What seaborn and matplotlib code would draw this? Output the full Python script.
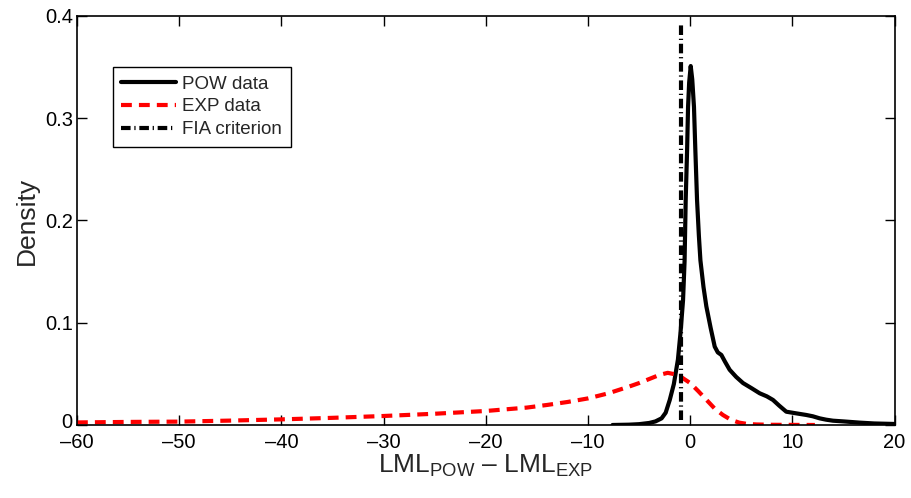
import numpy as np
import pandas as pd
import matplotlib
matplotlib.use("Agg")
import matplotlib.pyplot as plt
import matplotlib.transforms as mtransforms
import seaborn as sns

# ---- data ----
pow_x = [-7.6, -6, -5, -4.0, -3.4, -2.8, -2.4, -2.0, -1.6, -1.2, -0.95, -0.7, -0.55, -0.44, -0.3, -0.21,
         -0.1, 0.05, 0.2, 0.37, 0.5, 0.67, 0.85, 1.0, 1.3, 1.58, 2.0, 2.4, 2.7, 3.05, 3.4, 3.86, 4.5,
         5.17, 6.0, 6.8, 7.5, 8.1, 8.7, 9.4, 10.3, 11.36, 12.0, 12.67, 13.3, 13.97, 15.0, 16.6, 18.0, 20.0]
pow_y = [0.0, 0.0003, 0.0008, 0.002, 0.0035, 0.0065, 0.012, 0.0245, 0.04, 0.064, 0.09, 0.122, 0.16, 0.22,
         0.27, 0.311, 0.335, 0.351, 0.338, 0.311, 0.27, 0.22, 0.185, 0.161, 0.135, 0.116, 0.095, 0.0766,
         0.071, 0.0685, 0.062, 0.054, 0.047, 0.041, 0.036, 0.031, 0.028, 0.0245, 0.019, 0.013, 0.0115,
         0.0098, 0.0085, 0.0065, 0.0052, 0.0042, 0.0035, 0.0023, 0.0015, 0.001]

exp_x = [-60, -55, -50, -45, -40, -35, -30, -25, -20, -16, -14, -12, -10, -8, -6, -5, -4, -3, -2.2,
         -1.2, 0, 0.8, 1.6, 2.4, 3.2, 4, 4.8, 5.6, 6.5, 8, 10, 12.2]
exp_y = [0.0025, 0.003, 0.0033, 0.0043, 0.0055, 0.007, 0.0088, 0.011, 0.0137, 0.017, 0.0196, 0.0225,
         0.026, 0.031, 0.0375, 0.041, 0.045, 0.049, 0.051, 0.049, 0.041, 0.033, 0.0245, 0.016, 0.0098,
         0.005, 0.0023, 0.001, 0.0005, 0.0002, 0.0001, 0.0]

fia_x = -0.9

x_ticks = [-60, -50, -40, -30, -20, -10, 0, 10, 20]
y_ticks = [0, 0.1, 0.2, 0.3, 0.4]
y_tick_labels = ["0", "0.1", "0.2", "0.3", "0.4"]
labels = ["POW data", "EXP data", "FIA criterion"]

# ---- style ----
sns.set_style("ticks")
plt.rcParams['font.family'] = ['Liberation Sans', 'DejaVu Sans']
plt.rcParams['mathtext.fontset'] = 'custom'
plt.rcParams['mathtext.rm'] = 'Liberation Sans'
plt.rcParams['mathtext.it'] = 'Liberation Sans'

fig = plt.figure(figsize=(9.11, 4.98), dpi=100)
ax = fig.add_axes([0.0845, 0.1466, 0.8975, 0.8214])

lw = 3.0
df_pow = pd.DataFrame({"x": pow_x, "y": pow_y})
df_exp = pd.DataFrame({"x": exp_x, "y": exp_y})

sns.lineplot(data=df_pow, x="x", y="y", ax=ax, color="black", lw=lw, label=labels[0], sort=False)
sns.lineplot(data=df_exp, x="x", y="y", ax=ax, color="red", lw=lw, label=labels[1], sort=False,
             linestyle=(0, (2.6, 1.7)))
ax.axvline(fia_x, ymin=0.012, ymax=0.985, color="black", lw=lw, linestyle=(0, (2.3, 0.9, 0.3, 0.9)),
           label=labels[2])

ax.set_xlim(-60, 20)
ax.set_ylim(0, 0.4)
ax.set_xticks(x_ticks)
ax.set_xticklabels([("\u2013" + str(abs(t))) if t < 0 else str(t) for t in x_ticks])
ax.set_yticks(y_ticks)
ax.set_yticklabels(y_tick_labels)
ax.tick_params(direction="in", length=7, width=1, top=True, right=True, labelsize=14.5, pad=3,
               colors="black")
ax.tick_params(axis="x", pad=6)
for s in ax.spines.values():
    s.set_visible(True)
    s.set_linewidth(1.2)
    s.set_color("black")

# nudge the "0" y tick label up slightly so it does not collide with the "-60" label
zero_lbl = ax.get_yticklabels()[0]
zero_lbl.set_transform(zero_lbl.get_transform() +
                       mtransforms.ScaledTranslation(0, 3 / 72, fig.dpi_scale_trans))

ax.set_xlabel("LML$_{\\mathrm{POW}}$ \u2013 LML$_{\\mathrm{EXP}}$", fontsize=19, labelpad=0)
ax.set_ylabel("Density", fontsize=19, labelpad=4)

leg = ax.legend(loc="upper left", bbox_to_anchor=(0.044, 0.875), fontsize=13.5, frameon=True,
                fancybox=False, edgecolor="black", framealpha=1, handlelength=2.9,
                borderpad=0.45, labelspacing=0.3, handletextpad=0.35, borderaxespad=0)
leg.get_frame().set_linewidth(1.0)

fig.savefig("out.png", dpi=100)
